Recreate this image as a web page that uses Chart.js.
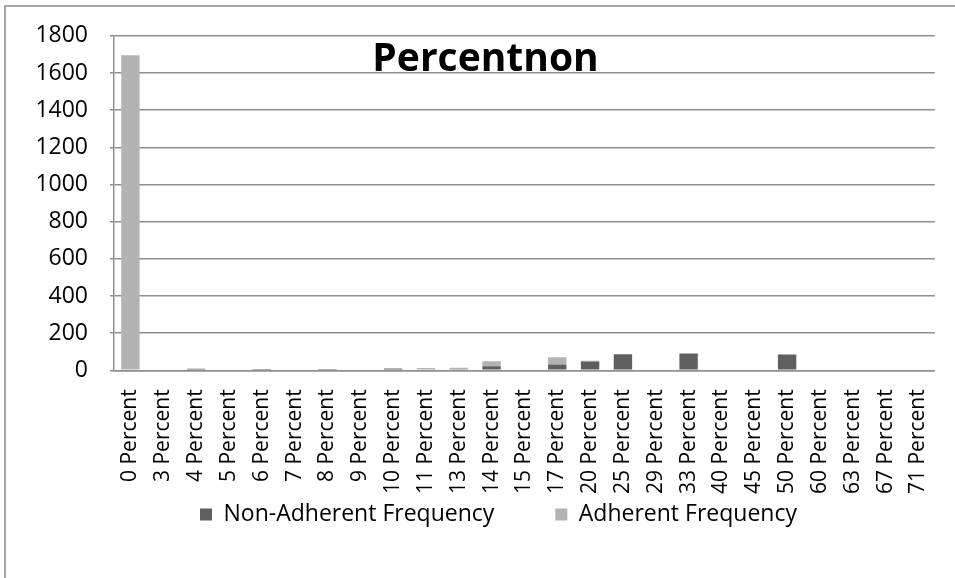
<!DOCTYPE html>
<html>
<head>
<meta charset="utf-8">
<script src="https://cdn.jsdelivr.net/npm/chart.js@4/dist/chart.umd.min.js"></script>
<style>
  html, body { margin: 0; padding: 0; background: #fff; }
  #wrap { position: relative; width: 955px; height: 578px; overflow: hidden; }
  #frame { position: absolute; left: 4px; top: 5px; width: 1000px; height: 1000px;
           border-left: 2px solid #a6a6a6; border-top: 2px solid #a6a6a6; }
  canvas { position: absolute; left: 0; top: 0; }
</style>
</head>
<body>
<div id="wrap">
  <div id="frame"></div>
  <canvas id="c" width="955" height="578"></canvas>
</div>
<script>
// Percent-nonadherence buckets
const categories = ['0 Percent', '3 Percent', '4 Percent', '5 Percent', '6 Percent', '7 Percent',
  '8 Percent', '9 Percent', '10 Percent', '11 Percent', '13 Percent', '14 Percent', '15 Percent',
  '17 Percent', '20 Percent', '25 Percent', '29 Percent', '33 Percent', '40 Percent', '45 Percent',
  '50 Percent', '60 Percent', '63 Percent', '67 Percent', '71 Percent'];

// Frequencies per bucket (stacked)
const nonAdherent = [0, 0, 8, 0, 7, 0, 7, 0, 3, 4, 6, 22, 0, 31, 47, 86, 0, 91, 0, 0, 85, 0, 0, 0, 0];
const adherent    = [1695, 0, 0, 0, 0, 0, 0, 0, 10, 8, 8, 27, 0, 39, 4, 0, 0, 0, 0, 0, 0, 0, 0, 0, 0];

// Value axis
const yMin = 0;
const yMax = 1800;
const yStep = 200;

const chartTitle = 'Percentnon';
const FONT = "'Open Sans', 'Liberation Sans', sans-serif";
const GRID = '#8f8f8f';
const LEGEND_PAD = 61;

// Title drawn inside the plot, near its top
const insideTitle = {
  id: 'insideTitle',
  afterDraw(chart) {
    const ctx = chart.ctx;
    const area = chart.chartArea;
    ctx.save();
    ctx.font = 'bold 39px ' + FONT;
    ctx.fillStyle = '#000';
    ctx.textAlign = 'center';
    ctx.textBaseline = 'alphabetic';
    ctx.fillText(chartTitle, chart.width / 2 + 8, area.top + 35);
    ctx.restore();
  }
};

// Legend row sits under the rotated category labels, centred on the frame
const legendPlacement = {
  id: 'legendPlacement',
  beforeDraw(chart) {
    const lg = chart.legend;
    if (!lg || !lg.lineWidths) return;
    const h = lg.bottom - lg.top;
    const rowWidth = lg.lineWidths[0];
    const startX = 200;
    lg.left = 2 * startX - LEGEND_PAD - lg.right + rowWidth;
    lg.top = 442;
    lg.bottom = 442 + h;
  }
};

new Chart(document.getElementById('c'), {
  type: 'bar',
  data: {
    labels: categories,
    datasets: [
      { label: 'Non-Adherent Frequency', data: nonAdherent, backgroundColor: '#5f5f5f',
        categoryPercentage: 1.0, barPercentage: 0.56 },
      { label: 'Adherent Frequency', data: adherent, backgroundColor: '#b3b3b3',
        categoryPercentage: 1.0, barPercentage: 0.56 }
    ]
  },
  options: {
    responsive: false,
    animation: false,
    layout: { padding: { left: 0, right: 18, top: 34, bottom: -21 } },
    plugins: {
      title: { display: false },
      tooltip: { enabled: false },
      legend: {
        position: 'bottom',
        labels: {
          boxWidth: 12, boxHeight: 12, padding: LEGEND_PAD,
          color: '#000',
          font: { family: FONT, size: 23 }
        }
      }
    },
    scales: {
      x: {
        stacked: true,
        grid: { display: false },
        border: { display: true, color: GRID, width: 1.5 },
        ticks: {
          minRotation: 90, maxRotation: 90, autoSkip: false, padding: 11,
          color: '#000', font: { family: FONT, size: 21 }
        }
      },
      y: {
        stacked: true,
        min: yMin, max: yMax,
        grid: { color: GRID, lineWidth: 1.5, tickLength: 4 },
        border: { display: true, color: GRID, width: 1.5 },
        ticks: {
          stepSize: yStep, padding: 22,
          color: '#000', font: { family: FONT, size: 23 },
          callback: (v) => String(v)
        },
        afterFit(scale) { scale.width = 114; }
      }
    }
  },
  plugins: [insideTitle, legendPlacement]
});
</script>
</body>
</html>
